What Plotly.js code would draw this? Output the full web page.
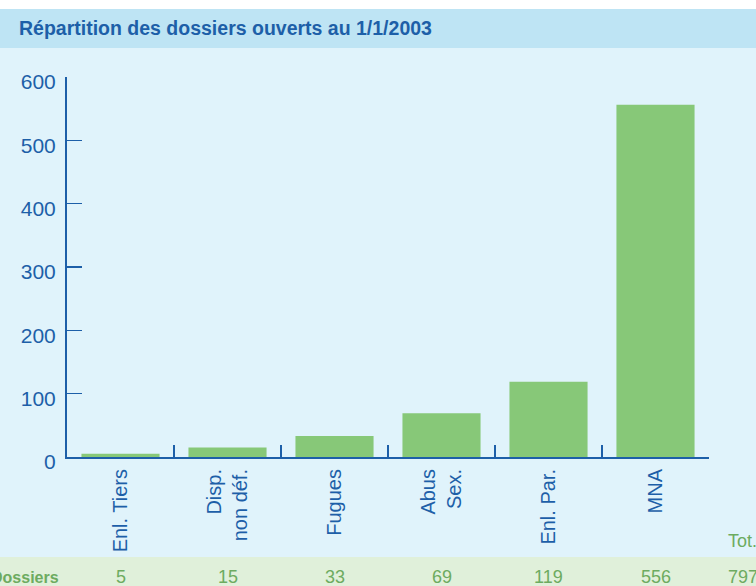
<!DOCTYPE html>
<html>
<head>
<meta charset="utf-8">
<script src="https://cdn.plot.ly/plotly-3.0.1.min.js"></script>
<style>html,body{margin:0;padding:0;background:#fff;}#chart{width:756px;height:586px;}</style>
</head>
<body>
<div id="chart"></div>
<script>
const categories = ["Enl. Tiers", "Disp.<br>non déf.", "Fugues", "Abus<br>Sex.", "Enl. Par.", "MNA"];
const dossiers = [5, 15, 33, 69, 119, 556];
const totalLabel = "Tot.";
const totalValue = 797;
const rowLabel = "Dossiers";
const yTicks = [0, 100, 200, 300, 400, 500, 600];
const chartTitle = "Répartition des dossiers ouverts au 1/1/2003";

const BLUE = "#1d5fa8";
const GREEN_TXT = "#6dab60";
const W = 756, H = 586, L = 67, R = 47, T = 77, B = 129;
const pw = W - L - R, ph = H - T - B;
const px = v => (v - L) / pw;
const py = v => (H - B - v) / ph;

const trace = {
  type: "bar",
  x: categories,
  y: dossiers,
  width: 0.73,
  marker: {color: "#87c878"},
  hoverinfo: "none"
};

const annotations = [
  {xref: "paper", yref: "paper", x: px(17), y: py(28), xanchor: "left", yanchor: "middle",
   text: "<b>" + chartTitle + "</b>", showarrow: false,
   font: {family: "Liberation Sans, Arial, sans-serif", size: 19.5, color: BLUE}},
  {xref: "paper", yref: "paper", x: px(61), y: py(577), xanchor: "right", yanchor: "middle",
   text: "<b>" + rowLabel + "</b>", showarrow: false,
   font: {family: "Liberation Sans, Arial, sans-serif", size: 16, color: GREEN_TXT}},
  {xref: "paper", yref: "paper", x: px(726), y: py(541), xanchor: "left", yanchor: "middle",
   text: totalLabel, showarrow: false,
   font: {family: "Liberation Sans, Arial, sans-serif", size: 18, color: GREEN_TXT}},
  {xref: "paper", yref: "paper", x: px(726), y: py(577), xanchor: "left", yanchor: "middle",
   text: String(totalValue), showarrow: false,
   font: {family: "Liberation Sans, Arial, sans-serif", size: 18, color: GREEN_TXT}}
];
categories.forEach((c, i) => {
  annotations.push({xref: "x", yref: "paper", x: c, y: py(577), xanchor: "center", yanchor: "middle",
    text: String(dossiers[i]), showarrow: false,
    font: {family: "Liberation Sans, Arial, sans-serif", size: 18, color: GREEN_TXT}});
});

const shapes = [
  {type: "rect", xref: "paper", yref: "paper", x0: px(0), x1: px(W), y0: py(0), y1: py(9), fillcolor: "#ffffff", line: {width: 0}, layer: "below"},
  {type: "rect", xref: "paper", yref: "paper", x0: px(0), x1: px(W), y0: py(9), y1: py(48), fillcolor: "#bee4f4", line: {width: 0}, layer: "below"},
  {type: "rect", xref: "paper", yref: "paper", x0: px(0), x1: px(W), y0: py(557), y1: py(586), fillcolor: "#e0f0da", line: {width: 0}, layer: "below"}
];

const layout = {
  width: W, height: H,
  margin: {l: L, r: R, t: T, b: B, pad: 0},
  paper_bgcolor: "#e0f3fb",
  plot_bgcolor: "#e0f3fb",
  showlegend: false,
  font: {family: "Liberation Sans, Arial, sans-serif", color: BLUE},
  xaxis: {
    type: "category",
    range: [-0.5, 5.5],
    showline: true, linecolor: BLUE, linewidth: 2,
    ticks: "inside", tickson: "boundaries", ticklen: 12, tickcolor: BLUE, tickwidth: 1.5,
    tickangle: -90,
    tickfont: {size: 20, color: BLUE},
    ticklabelstandoff: 2,
    showgrid: false, zeroline: false, fixedrange: true
  },
  yaxis: {
    range: [0, 600],
    tickvals: yTicks,
    showline: true, linecolor: BLUE, linewidth: 2,
    ticks: "inside", ticklen: 15, tickcolor: BLUE, tickwidth: 1.5,
    tickfont: {size: 21, color: BLUE},
    ticklabelstandoff: 5,
    ticklabelshift: 5,
    showgrid: false, zeroline: false, fixedrange: true
  },
  shapes: shapes,
  annotations: annotations
};

Plotly.newPlot("chart", [trace], layout, {displayModeBar: false, staticPlot: true});
</script>
</body>
</html>
